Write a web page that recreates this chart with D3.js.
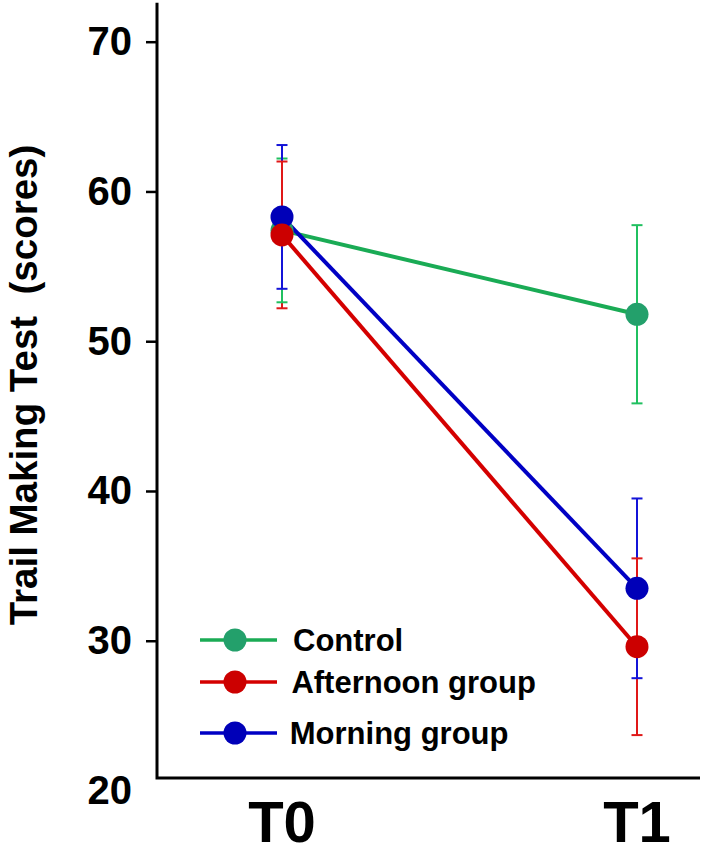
<!DOCTYPE html>
<html>
<head>
<meta charset="utf-8">
<script src="https://cdn.jsdelivr.net/npm/d3@7/dist/d3.min.js"></script>
<style>
  html, body { margin: 0; padding: 0; background: #fff; }
  svg { display: block; font-family: Arial, "Liberation Sans", sans-serif; }
</style>
</head>
<body>
<div id="chart"></div>
<script>
  "use strict";

  // time points
  const timePoints = ["T0", "T1"];

  // group names, in legend order
  const groups = ["Control", "Afternoon group", "Morning group"];

  // means at T0, T1 (scores)
  const controlMean = [57.4, 51.8];
  const afternoonMean = [57.1, 29.6];
  const morningMean = [58.3, 33.5];

  // error bar half-widths at T0, T1
  const controlErr = [4.8, 5.95];
  const afternoonErr = [4.9, 5.9];
  const morningErr = [4.8, 6.0];

  const yTicks = [20, 30, 40, 50, 60, 70];
  const yTitle = "Trail Making Test\u00a0\u00a0(scores)";

  const width = 703, height = 848;

  // colours per group: line, dot, error bar
  const palette = {
    "Control": { line: "#1aab55", dot: "#23a06b", err: "#20c060" },
    "Afternoon group": { line: "#d40000", dot: "#cc0000", err: "#e01818" },
    "Morning group": { line: "#0000c4", dot: "#0000b8", err: "#1414d8" }
  };

  const series = [
    { name: groups[0], mean: controlMean, err: controlErr },
    { name: groups[1], mean: afternoonMean, err: afternoonErr },
    { name: groups[2], mean: morningMean, err: morningErr }
  ];

  const x = d3.scalePoint(timePoints, [282, 637]);
  const y = d3.scaleLinear([20, 70], [790.5, 41.7]);

  const axisX0 = 157, axisX1 = 700;   // x extent of the frame
  const axisTop = 72.6, axisBottom = 20.83; // y extent of the frame (data units)

  const svg = d3.select("#chart").append("svg")
      .attr("width", width)
      .attr("height", height);

  // y axis with labels
  const yAxis = svg.append("g")
      .attr("transform", `translate(${axisX0},0)`)
      .call(d3.axisLeft(y).tickValues(yTicks).tickSize(11).tickPadding(14).tickFormat(d3.format("d")));
  yAxis.select(".domain").remove();
  yAxis.selectAll(".tick line")
      .attr("stroke", "#000")
      .attr("stroke-width", 2.5)
      .filter(d => y(d) > y(axisBottom)).remove();
  yAxis.selectAll(".tick text")
      .attr("fill", "#000")
      .attr("font-size", 40)
      .attr("font-weight", "bold")
      .attr("font-family", "Arial, 'Liberation Sans', sans-serif");

  // frame: left and bottom lines
  svg.append("path")
      .attr("d", `M${axisX0},${y(axisTop)}V${y(axisBottom)}H${axisX1}`)
      .attr("fill", "none")
      .attr("stroke", "#000")
      .attr("stroke-width", 3);

  // x labels
  svg.append("g").selectAll("text")
    .data(timePoints)
    .join("text")
      .attr("x", d => x(d))
      .attr("y", 842)
      .attr("text-anchor", "middle")
      .attr("font-size", 58)
      .attr("font-weight", "bold")
      .text(d => d);

  // y title
  svg.append("text")
      .attr("transform", `translate(37,385) rotate(-90)`)
      .attr("text-anchor", "middle")
      .attr("font-size", 38.5)
      .attr("font-weight", "bold")
      .text(yTitle);

  const cap = 5.5;

  function errHalf(g, s, dir) {
    const c = palette[s.name].err;
    timePoints.forEach((t, i) => {
      const yEnd = y(s.mean[i] + dir * s.err[i]);
      g.append("line")
          .attr("x1", x(t)).attr("x2", x(t))
          .attr("y1", y(s.mean[i])).attr("y2", yEnd)
          .attr("stroke", c).attr("stroke-width", 2);
      g.append("line")
          .attr("x1", x(t) - cap).attr("x2", x(t) + cap)
          .attr("y1", yEnd).attr("y2", yEnd)
          .attr("stroke", c).attr("stroke-width", 2);
    });
  }

  // error bars: lower halves with morning on top, upper halves with afternoon on top
  const errG = svg.append("g");
  [series[1], series[0], series[2]].forEach(s => errHalf(errG, s, -1));
  [series[0], series[2], series[1]].forEach(s => errHalf(errG, s, 1));

  const line = d3.line()
      .x((d, i) => x(timePoints[i]))
      .y(d => y(d));

  const drawOrder = [series[0], series[2], series[1]];

  svg.append("g").selectAll("path")
    .data(drawOrder)
    .join("path")
      .attr("d", d => line(d.mean))
      .attr("fill", "none")
      .attr("stroke", d => palette[d.name].line)
      .attr("stroke-width", 4);

  drawOrder.forEach(s => {
    svg.append("g").selectAll("circle")
      .data(s.mean)
      .join("circle")
        .attr("cx", (d, i) => x(timePoints[i]))
        .attr("cy", d => y(d))
        .attr("r", 11.5)
        .attr("fill", palette[s.name].dot);
  });

  // legend
  const legendY = [640, 682, 733];
  const legend = svg.append("g").selectAll("g")
    .data(groups)
    .join("g")
      .attr("transform", (d, i) => `translate(0,${legendY[i]})`);

  legend.append("line")
      .attr("x1", 200).attr("x2", 277)
      .attr("stroke", d => palette[d].line)
      .attr("stroke-width", 3.5);

  legend.append("circle")
      .attr("cx", 235)
      .attr("r", 11.5)
      .attr("fill", d => palette[d].dot);

  legend.append("text")
      .attr("x", (d, i) => 293 - i * 1.6)
      .attr("dy", "0.34em")
      .attr("font-size", 31)
      .attr("font-weight", "bold")
      .text(d => d);
</script>
</body>
</html>
